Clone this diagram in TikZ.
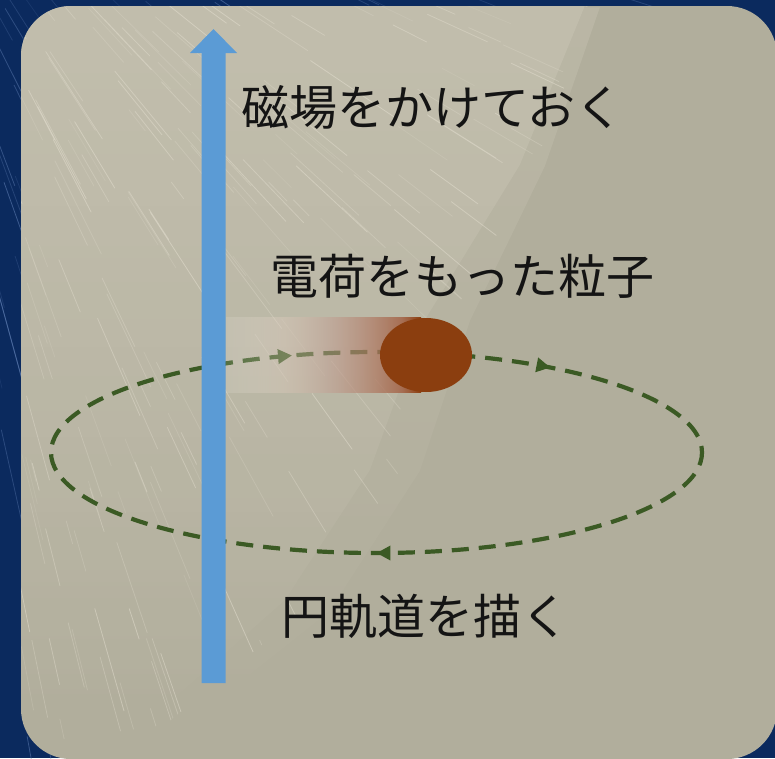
\documentclass[tikz,border=0pt]{standalone}
\usepackage{fontspec}
\newfontfamily\jpfont{Noto Sans CJK JP}
\usetikzlibrary{arrows.meta,decorations.markings,shapes.geometric,fadings}

\definecolor{navy}{HTML}{0B2A5E}
\definecolor{navystreak}{HTML}{5C7BB0}
\definecolor{panel}{HTML}{B1AE9C}
\definecolor{panellight}{HTML}{C4C0AF}
\definecolor{streak}{HTML}{E2DDCE}
\definecolor{fieldblue}{HTML}{5B9BD5}
\definecolor{orbitgreen}{HTML}{3B5A24}
\definecolor{chargebrown}{HTML}{8B3E0F}

% colour and opacity ramps of the moving charge's trail
\pgfdeclarehorizontalshading{trailshade}{100bp}{%
  rgb(0bp)=(0.94,0.925,0.894); rgb(25bp)=(0.94,0.925,0.894);
  rgb(40bp)=(0.886,0.804,0.749); rgb(51bp)=(0.765,0.627,0.58);
  rgb(70bp)=(0.643,0.388,0.275); rgb(75bp)=(0.545,0.243,0.059);
  rgb(100bp)=(0.545,0.243,0.059)}
\pgfdeclarehorizontalshading{trailalpha}{100bp}{%
  rgb(0bp)=(0.15,0.15,0.15); rgb(25bp)=(0.15,0.15,0.15);
  rgb(51bp)=(0.5,0.5,0.5); rgb(70bp)=(0.85,0.85,0.85);
  rgb(75bp)=(1,1,1); rgb(100bp)=(1,1,1)}
\pgfdeclarefading{trailfade}{\pgfuseshading{trailalpha}}

\tikzset{
  caption/.style={font=\jpfont\fontsize{48}{52}\selectfont, text=black!92,
    inner sep=0pt, anchor=west},
  orbitpath/.style={draw=orbitgreen, line width=4.2pt,
    dash pattern=on 17pt off 10pt, dash phase=4pt},
  orbittip/.tip={Triangle[length=14pt,width=14pt]},
  fieldarrow/.style={fill=fieldblue, draw=none},
  charge/.style={ellipse, fill=chargebrown, draw=none, inner sep=0pt,
    minimum width=92pt, minimum height=74pt},
}

\begin{document}
\begin{tikzpicture}[x=1pt,y=-1pt]
  \useasboundingbox (0,0) rectangle (775,758);

  % dark backdrop with faint blue streaks
  \fill[navy] (0,0) rectangle (775,758);
  \pgfmathsetseed{11}
  \foreach \i in {1,...,220}{
    \pgfmathsetmacro{\ang}{10+80*rnd}
    \pgfmathsetmacro{\ra}{250+1000*rnd}
    \pgfmathsetmacro{\len}{40+160*rnd}
    \pgfmathsetmacro{\op}{0.15+0.45*rnd}
    \pgfmathsetmacro{\xa}{-150+\ra*cos(\ang)}
    \pgfmathsetmacro{\ya}{-250+\ra*sin(\ang)}
    \pgfmathsetmacro{\xb}{-150+(\ra+\len)*cos(\ang)}
    \pgfmathsetmacro{\yb}{-250+(\ra+\len)*sin(\ang)}
    \draw[navystreak, line width=0.8pt, opacity=\op] (\xa,\ya) -- (\xb,\yb);
  }

  % panel
  \fill[panel, rounded corners=50pt] (21,6) rectangle (777,759);

  % light streaked wedge in the upper left of the panel, soft-edged
  \begin{scope}
    \clip[rounded corners=50pt] (21,6) rectangle (777,759);
    \fill[panellight, opacity=0.5, path fading=south]
      (21,6) -- (600,6) -- (545,165) -- (470,320) -- (420,470)
      -- (330,610) -- (180,730) -- (21,750) -- cycle;
    \fill[panellight, opacity=0.8, path fading=south]
      (21,6) -- (585,6) -- (520,165) -- (425,320) -- (370,470)
      -- (285,600) -- (150,720) -- (21,740) -- cycle;
    \clip (21,6) -- (595,6) -- (535,165) -- (450,320) -- (400,470)
      -- (310,605) -- (165,725) -- (21,745) -- cycle;
    \foreach \i in {1,...,300}{
      \pgfmathsetmacro{\ang}{18+62*rnd}
      \pgfmathsetmacro{\ra}{240+800*rnd}
      \pgfmathsetmacro{\len}{20+90*rnd}
      \pgfmathsetmacro{\op}{0.15+0.4*rnd}
      \pgfmathsetmacro{\xa}{-150+\ra*cos(\ang)}
      \pgfmathsetmacro{\ya}{-250+\ra*sin(\ang)}
      \pgfmathsetmacro{\xb}{-150+(\ra+\len)*cos(\ang)}
      \pgfmathsetmacro{\yb}{-250+(\ra+\len)*sin(\ang)}
      \draw[streak, line width=0.8pt, line cap=round, opacity=\op]
        (\xa,\ya) -- (\xb,\yb);
    }
  \end{scope}

  % circular orbit seen in perspective, travelling clockwise on the page
  \coordinate (orbitcentre) at (376.5,452.5);
  \draw[orbitpath, postaction={decorate}, decoration={markings,
      mark=at position 0.25 with {\arrow{orbittip}},
      mark=at position 0.691 with {\arrow{orbittip}},
      mark=at position 0.872 with {\arrow{orbittip}}}]
    (orbitcentre) ellipse [x radius=325.5, y radius=100.5];

  % trail behind the moving charge
  \shade[shading=trailshade, path fading=trailfade]
    (226,318) rectangle (421,392);

  % magnetic field arrow
  \coordinate (fieldbase) at (213.5,683);
  \coordinate (fieldtip) at (213.5,29);
  \fill[fieldarrow] (201.5,683) -- (201.5,53) -- (190,53) -- (fieldtip)
    -- (237,53) -- (225.5,53) -- (225.5,683) -- cycle;

  % the charged particle
  \node[charge] (particle) at (426,355) {};

  % captions
  \node[caption] (fieldlabel) at (241,107.5) {磁場をかけておく};
  \node[caption] (chargelabel) at (270,276) {電荷をもった粒子};
  \node[caption] (orbitlabel) at (281,616.5) {円軌道を描く};
\end{tikzpicture}
\end{document}
